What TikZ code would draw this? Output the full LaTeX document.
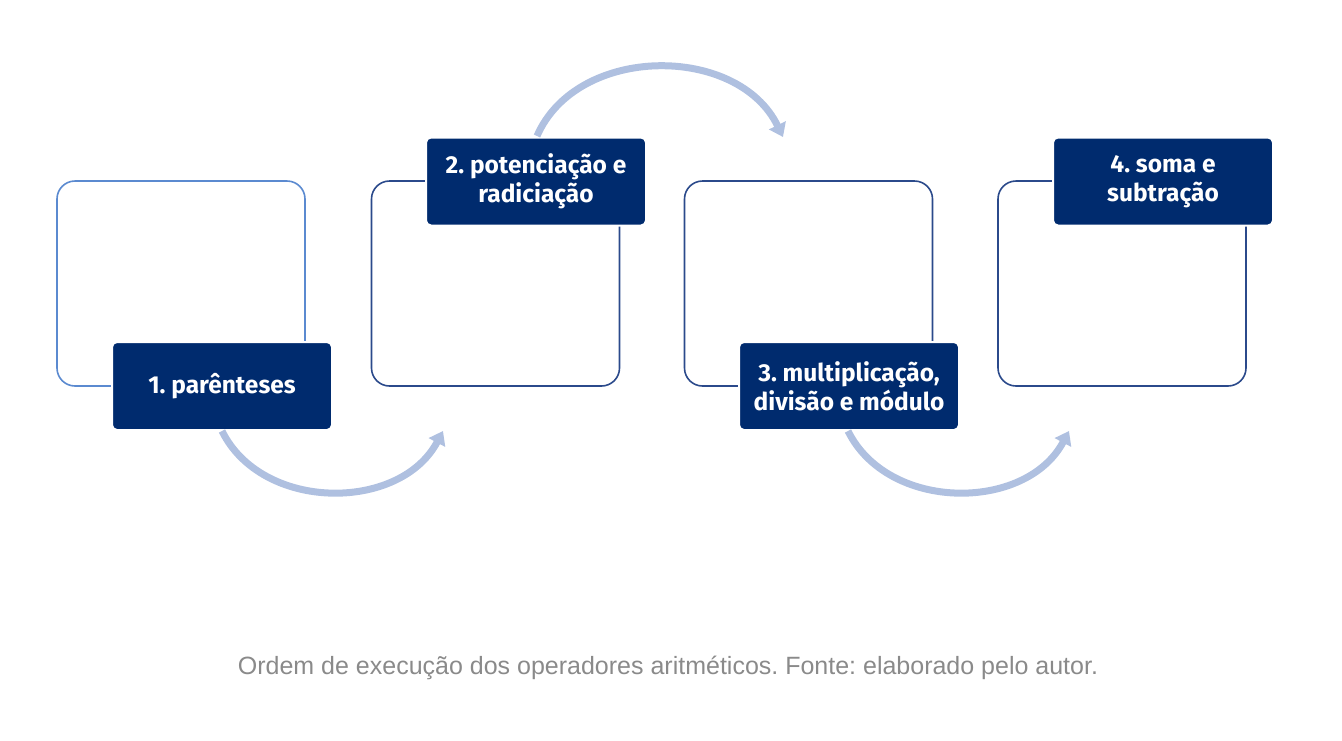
\documentclass[tikz,border=0pt]{standalone}
\usepackage{fontspec}
\setmainfont{Liberation Sans}
\newfontfamily\labelfont{Fira Sans}
\usetikzlibrary{arrows.meta}
\definecolor{navy}{HTML}{002B6E}
\definecolor{outlA}{HTML}{5B8AD0}
\definecolor{outlB}{HTML}{2B4A8B}
\definecolor{arrowc}{HTML}{AFC0E0}
\definecolor{capc}{HTML}{8A8A8A}
\tikzset{
  outline/.style={draw=#1, line width=1.6pt, rounded corners=18pt, minimum width=248pt, minimum height=205pt, inner sep=0pt},
  stagelabel/.style={fill=navy, draw=white, line width=2pt, rounded corners=5pt, minimum width=220pt, minimum height=88pt, text=white, font=\labelfont\bfseries\fontsize{24.5}{29}\selectfont, align=center, inner sep=0pt},
  flow/.style={draw=arrowc, line width=7pt, -{Triangle[width=18pt,length=13pt]}},
}
\begin{document}
\frenchspacing
\begin{tikzpicture}[x=1pt,y=-1pt]
\useasboundingbox (0,0) rectangle (1342,740);
% outlines
\node[outline=outlA] (o1) at (181,283.5) {};
\node[outline=outlB] (o2) at (495.5,283.5) {};
\node[outline=outlB] (o3) at (808.5,283.5) {};
\node[outline=outlB] (o4) at (1122,283.5) {};
% labels
\node[stagelabel] (l1) at (222,386) {1. parênteses};
\node[stagelabel] (l2) at (536,181.5) {2. potenciação e\\radiciação};
\node[stagelabel] (l3) at (849,386) {3. multiplicação,\\divisão e módulo};
\node[stagelabel] (l4) at (1163,181.5) {4. soma e\\subtração};
% arrows
\coordinate (a1s) at (222,431);
\coordinate (a1e) at (443,431);
\coordinate (a2s) at (537,136);
\coordinate (a2e) at (783,137);
\coordinate (a3s) at (848,431);
\coordinate (a3e) at (1069,431);
\draw[flow] (a1s) .. controls (262,512) and (400,512) .. (a1e);
\draw[flow] (a2s) .. controls (577,44) and (738,44) .. (a2e);
\draw[flow] (a3s) .. controls (888,512) and (1026,512) .. (a3e);
% caption
\node[text=capc, font=\fontsize{25}{29}\selectfont] (cap) at (668,668) {Ordem de execução dos operadores aritméticos. Fonte: elaborado pelo autor.};
\end{tikzpicture}
\end{document}
